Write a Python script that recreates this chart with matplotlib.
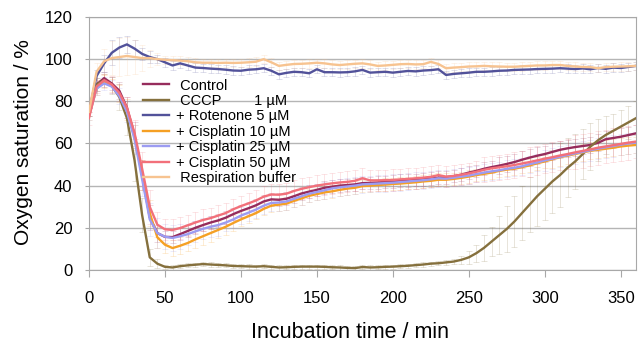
import numpy as np
import matplotlib
matplotlib.use("Agg")
import matplotlib.pyplot as plt

plt.rcParams['font.family'] = ['Liberation Sans', 'DejaVu Sans']

# time axis (min)
time = list(range(0, 365, 5))

control = [75, 88, 91, 88.5, 85, 77, 64, 45, 25, 17.5, 15.7, 15.6, 17, 18.5, 20, 21.3, 22.5, 23.5, 24.8, 26.5,
           28, 29.3, 30.7, 32.5, 33.5, 33.3, 33.8, 35, 36.3, 37.2, 38, 39, 39.5, 40, 40.3, 40.6, 41.2, 41.3, 41.5, 41.8,
           42, 42.3, 42.5, 42.7, 43, 43.3, 43.8, 44, 44.5, 45.2, 46.2, 47, 48, 48.8, 49.5, 50.3, 51.2, 52.3, 53.3, 54.2,
           55, 56, 57, 57.7, 58.3, 58.8, 59.3, 60.3, 62, 62.6, 63.2, 64, 64.8]
cccp = [75, 88, 90, 87.5, 82, 72, 52, 26, 6, 3, 1.5, 1.2, 1.8, 2.2, 2.5, 2.8, 2.6, 2.4, 2.2, 1.9,
        1.8, 1.7, 1.6, 1.8, 1.5, 1.2, 1.3, 1.5, 1.6, 1.6, 1.6, 1.5, 1.3, 1.2, 1.0, 0.9, 1.4, 1.2, 1.3, 1.5,
        1.6, 1.8, 2.0, 2.3, 2.6, 3.0, 3.2, 3.6, 4.0, 4.8, 6, 8, 10.5, 13.5, 16.5, 19.5, 23, 27, 31, 35,
        38.5, 42, 45, 48.5, 51.5, 55, 58.5, 61.5, 64, 66, 68, 70, 72]
rotenone = [75, 92, 98, 103, 105.5, 107, 105, 102.5, 101, 100, 98.5, 97, 98, 97, 96, 95.8, 95.5, 95.3, 95, 94.6,
            94.5, 95, 95.2, 95.7, 94.5, 92.8, 93.5, 94, 93.8, 93.3, 95.2, 93.8, 93.8, 93.7, 93.8, 94.2, 94.9, 93.6, 93.8, 94,
            93.6, 94, 94.4, 94.2, 94.6, 94.8, 95.2, 92.5, 93, 93.3, 93.6, 94, 94, 94.2, 94.5, 94.6, 94.9, 95, 95.1, 95.3,
            95.4, 95.5, 95.7, 95.5, 95.3, 95.6, 95.2, 95.8, 95.4, 96, 95.8, 96.3, 96.8]
cis10 = [73, 86, 89.5, 87.5, 83.5, 76, 63, 45, 27, 15.5, 12, 10.4, 11.5, 12.8, 14.5, 16, 17.5, 19, 20.5, 22.3,
         24, 25.5, 27, 29, 30.5, 31, 31.5, 32.8, 34, 35.2, 36, 36.8, 37.3, 38, 38.6, 39, 39.8, 40, 40.3, 40.5,
         40.8, 41, 41.3, 41.6, 42, 42.3, 42.8, 42.8, 43.2, 43.7, 44.3, 45, 45.6, 46.2, 47, 47.6, 48, 48.8, 49.6, 50.6,
         51.5, 52.5, 53.5, 54.2, 55, 55.8, 56.5, 57, 57.5, 58, 58.6, 59, 59.3]
cis25 = [73, 86, 88.5, 87, 82.5, 75, 62, 43, 24, 17.5, 15.8, 15.2, 16, 17, 18.3, 19.5, 20.5, 21.3, 22.5, 24,
         25.8, 27.2, 28.7, 30.5, 31.8, 32, 32.5, 33.8, 35, 36.2, 37, 37.8, 38.7, 39.2, 39.6, 40, 40.6, 40.8, 41, 41.2,
         41.4, 41.7, 42, 42.3, 42.6, 43, 43.5, 43.3, 43.8, 44.3, 44.8, 45.5, 46.2, 46.8, 47.3, 48, 48.5, 49.2, 50.2, 51,
         52, 52.8, 53.7, 54.5, 55.3, 56, 56.8, 57.5, 58.2, 58.8, 59.4, 60, 60.4]
cis50 = [72, 87, 90, 88, 84, 77, 65, 48, 30, 21.5, 19.3, 19, 19.9, 21.2, 22.5, 23.7, 24.6, 25.8, 27, 28.8,
         30.3, 31.6, 33, 34.8, 35.8, 35.7, 36.2, 37.5, 38.5, 39.3, 40, 40.6, 41.1, 41.5, 41.8, 42.3, 43.5, 42.5, 42.5, 42.6,
         42.7, 43, 43.2, 43.5, 43.8, 44.2, 45, 44.3, 44.6, 45.2, 45.8, 46.6, 47.5, 48.2, 48.7, 49.2, 49.8, 50.5, 51.2, 52,
         52.8, 53.5, 54.3, 55, 55.8, 56.5, 57.2, 58, 58.6, 59.2, 59.8, 60.4, 60.9]
buffer = [75, 94, 99, 100.5, 101, 101.5, 101, 100.5, 100.5, 100, 99.7, 99.5, 99.3, 99, 98.5, 98.3, 98.3, 98.2, 98.3, 98.2,
          98.3, 98.5, 98.8, 100, 98.5, 96.8, 97.3, 97.7, 97.8, 98, 98.3, 98, 97.5, 97.2, 97.5, 97.8, 98, 97.5, 96.8, 97,
          97.3, 97.6, 97.7, 97.5, 97.6, 98.7, 97.7, 95.7, 96, 96.2, 96.5, 96.6, 96.8, 96.6, 96.5, 96.4, 96.4, 96.6, 96.8, 97,
          97, 97.2, 97.2, 96.8, 96.5, 96.3, 96.2, 95.7, 96.2, 96.4, 96.5, 96.6, 96.8]

# standard deviations
err_control = [2, 3, 3, 3, 4, 5, 6, 7, 6, 4, 3, 3, 3, 3, 3, 3, 3, 3, 3, 3,
               3, 3, 3, 3, 3, 3, 3, 3, 3, 3, 3, 3, 3, 3, 3, 3, 3, 3, 3, 3,
               3, 3, 3, 3, 3, 3, 3, 3, 3, 3, 3, 3, 3, 3, 4, 4, 4, 4, 4, 4,
               4, 4, 4, 4, 4, 4, 4, 4, 4, 4, 4, 4, 4]
err_cccp = [2, 3, 3, 4, 6, 8, 10, 8, 4, 2, 1, 1, 1, 1, 1, 1, 1, 1, 1, 1,
            1, 1, 1, 1, 1, 1, 1, 1, 1, 1, 1, 1, 1, 1, 1, 1, 1, 1, 1, 1,
            1, 1, 1, 1, 1, 1, 1, 1, 1, 2, 3, 4, 6, 7, 9, 11, 12, 13, 13, 14,
            15, 15, 15, 14, 13, 12, 11, 10, 9, 8, 8, 8, 8]
err_rotenone = [2, 3, 4, 6, 5, 4, 4, 3, 3, 2, 2, 2, 2, 2, 2, 2, 2, 2, 2, 2,
                2, 2, 2, 2, 2, 2, 2, 2, 2, 2, 2, 2, 2, 2, 2, 2, 2, 2, 2, 2,
                2, 2, 2, 2, 2, 2, 2, 2, 2, 2, 2, 2, 2, 2, 2, 2, 2, 2, 2, 2,
                2, 2, 2, 2, 2, 2, 2, 2, 2, 2, 2, 2, 2]
err_cis10 = [2, 3, 3, 3, 4, 5, 6, 7, 6, 5, 4, 4, 4, 4, 4, 4, 4, 4, 4, 4,
             3, 3, 3, 3, 3, 3, 3, 3, 3, 3, 3, 3, 3, 3, 3, 3, 3, 3, 3, 3,
             3, 3, 3, 3, 3, 3, 3, 3, 3, 3, 3, 3, 3, 3, 3, 3, 3, 3, 3, 3,
             3, 4, 4, 4, 4, 4, 4, 4, 4, 4, 4, 4, 4]
err_cis25 = [2, 3, 3, 3, 4, 5, 7, 8, 8, 7, 6, 6, 6, 5, 5, 5, 5, 5, 4, 4,
             4, 4, 4, 4, 4, 4, 4, 4, 4, 4, 4, 4, 4, 4, 4, 4, 4, 4, 4, 4,
             4, 4, 4, 4, 4, 4, 4, 4, 4, 4, 4, 4, 4, 4, 4, 4, 4, 4, 4, 4,
             5, 5, 5, 5, 5, 5, 5, 5, 5, 5, 5, 5, 5]
err_cis50 = [3, 3, 3, 4, 4, 5, 6, 8, 8, 6, 5, 5, 5, 5, 5, 5, 5, 5, 5, 5,
             5, 5, 5, 5, 5, 5, 5, 5, 5, 5, 5, 5, 5, 5, 5, 5, 5, 5, 5, 5,
             5, 5, 5, 5, 5, 5, 5, 5, 5, 5, 5, 5, 6, 6, 6, 6, 6, 6, 7, 7,
             7, 7, 7, 7, 8, 8, 8, 8, 8, 8, 8, 8, 8]
err_buffer = [2, 4, 6, 8, 9, 9, 8, 6, 4, 3, 2, 2, 2, 2, 2, 2, 2, 2, 2, 2,
              2, 2, 2, 2, 2, 2, 2, 2, 2, 2, 2, 2, 2, 2, 2, 2, 2, 2, 2, 2,
              2, 2, 2, 2, 2, 2, 2, 2, 2, 2, 2, 2, 2, 2, 2, 2, 2, 2, 2, 2,
              2, 2, 2, 2, 2, 2, 2, 2, 2, 2, 2, 2, 2]

labels = [' Control', ' CCCP        1 \u00b5M', '+ Rotenone 5 \u00b5M', '+ Cisplatin 10 \u00b5M',
          '+ Cisplatin 25 \u00b5M', '+ Cisplatin 50 \u00b5M', ' Respiration buffer']
series = [control, cccp, rotenone, cis10, cis25, cis50, buffer]
errors = [err_control, err_cccp, err_rotenone, err_cis10, err_cis25, err_cis50, err_buffer]
colors = ['#962c5c', '#85703d', '#52529a', '#f5a024', '#9c9cf2', '#f2707a', '#f7c390']

fig = plt.figure(figsize=(6.4, 3.5), dpi=100)
ax = fig.add_axes([0.139, 0.2286, 0.8547, 0.7229])

for s, e, c, lab in zip(series, errors, colors, labels):
    ax.errorbar(time, s, yerr=e, fmt='none', ecolor=c, elinewidth=0.6, capsize=2,
                capthick=0.6, alpha=0.22, zorder=2)
    ax.plot(time, s, color=c, lw=1.7, label=lab, zorder=3)

ax.set_xlim(0, 360)
ax.set_ylim(0, 120)
ax.set_xticks(range(0, 351, 50))
ax.set_yticks(range(0, 121, 20))
ax.yaxis.grid(True, color='#b5b5b5', lw=1)
ax.set_axisbelow(True)
for sp in ax.spines.values():
    sp.set_color('#a8a8a8')
ax.tick_params(axis='x', direction='out', length=5, color='#a8a8a8', labelsize=12, pad=10)
ax.tick_params(axis='y', direction='out', length=3, color='#a8a8a8', labelsize=12, pad=9)

ax.set_xlabel('Incubation time / min', fontsize=15.5)
ax.set_ylabel('Oxygen saturation / %', fontsize=15)
ax.xaxis.set_label_coords(0.477, -0.205)
ax.yaxis.set_label_coords(-0.102, 0.506)

ax.legend(loc='upper left', bbox_to_anchor=(0.08, 0.797), frameon=False, fontsize=10.5,
          handlelength=1.8, handletextpad=0.45, labelspacing=0.1, borderpad=0.2)

fig.savefig('out.png', dpi=100)
